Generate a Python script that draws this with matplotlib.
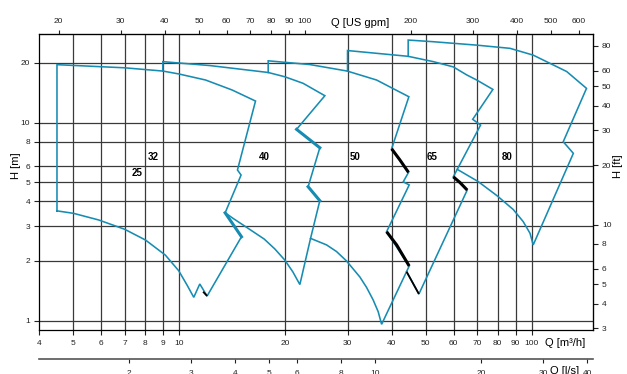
import matplotlib
matplotlib.use('Agg')
import matplotlib.pyplot as plt
from matplotlib.ticker import NullLocator

plt.rcParams['font.family'] = ['Liberation Sans', 'DejaVu Sans']

# ---------------- data (Q in m3/h, H in m) ----------------
families = ['25', '32', '40', '50', '65', '80']
label_q = [7.56, 8.4, 17.4, 31.5, 52.3, 84.9]
label_h = [5.54, 6.67, 6.67, 6.67, 6.67, 6.67]

env_25_32_q = [4.49, 4.49, 6.99, 8.97, 9.95, 11.86, 14.11, 16.44, 14.61, 14.96, 13.48, 15.0,
               11.98, 11.42, 10.98, 10.51, 9.95, 9.12, 8.01, 6.99, 5.90, 5.0, 4.49]
env_25_32_h = [3.58, 19.6, 18.9, 18.2, 17.6, 16.4, 14.6, 12.84, 5.76, 5.43, 3.50, 2.65,
               1.33, 1.53, 1.31, 1.51, 1.785, 2.14, 2.55, 2.89, 3.22, 3.48, 3.58]

env_40_q = [8.97, 8.97, 12.2, 17.86, 19.91, 22.44, 25.87, 21.5, 25.03, 23.19, 25.03, 23.56,
            21.97, 20.99, 19.91, 18.65, 17.4, 15.63, 14.2, 13.48]
env_40_h = [18.2, 20.3, 19.4, 17.9, 17.03, 15.78, 13.66, 9.24, 7.46, 4.74, 4.03, 2.60,
            1.52, 1.76, 2.02, 2.30, 2.58, 2.93, 3.28, 3.50]

env_50_q = [17.86, 17.86, 23.45, 29.93, 36.27, 40.62, 44.8, 40.02, 44.7, 43.18, 44.9, 38.73,
            44.9, 37.49, 36.66, 35.48, 33.98, 32.52, 29.8, 27.93, 26.16, 23.56]
env_50_h = [17.9, 20.5, 19.63, 18.2, 16.4, 14.77, 13.5, 7.37, 5.6, 5.02, 4.84, 2.81,
            1.885, 0.957, 1.108, 1.27, 1.47, 1.66, 2.0, 2.23, 2.41, 2.60]

env_65_q = [30.0, 30.0, 44.6, 52.6, 59.9, 65.4, 69.8, 77.6, 68.0, 71.6, 59.9, 65.6, 47.84, 44.15]
env_65_h = [18.2, 23.1, 21.6, 20.3, 19.1, 17.4, 16.4, 14.7, 10.38, 9.71, 5.32, 4.56, 1.361, 1.764]

env_80_q = [44.6, 44.6, 52.5, 69.8, 86.8, 101, 125.7, 143.1, 122.9, 131.3, 101, 98.9, 94.6,
            88.6, 79.6, 70.4, 61.5]
env_80_h = [21.6, 26.1, 25.6, 24.6, 23.7, 21.9, 18.1, 14.88, 8.0, 6.99, 2.41, 2.76, 3.16,
            3.64, 4.28, 5.04, 5.80]

# black overlay segments
blk_q = [[40.02, 42.26, 44.7], [38.73, 41.36, 44.9], [44.15, 47.84], [59.9, 62.56, 65.6], [11.67, 11.98]]
blk_h = [[7.37, 6.47, 5.6], [2.81, 2.41, 1.885], [1.764, 1.361], [5.32, 4.98, 4.56], [1.398, 1.33]]
blk_w = [2.2, 2.2, 1.3, 2.2, 1.3]

# doubled (thick) teal segments
thk_q = [[13.48, 15.0], [21.5, 25.03], [23.19, 25.03]]
thk_h = [[3.50, 2.65], [9.24, 7.46], [4.74, 4.03]]

grid_q = [5, 6, 7, 8, 9, 10, 20, 30, 40, 50, 60, 70, 80, 90, 100]
grid_h = [1, 2, 3, 4, 5, 6, 8, 10, 20]

q_ticks = [4, 5, 6, 7, 8, 9, 10, 20, 30, 40, 50, 60, 70, 80, 90, 100]
h_ticks = [1, 2, 3, 4, 5, 6, 8, 10, 20]
gpm_ticks = [20, 30, 40, 50, 60, 70, 80, 90, 100, 200, 300, 400, 500, 600]
ft_ticks = [3, 4, 5, 6, 8, 10, 20, 30, 40, 50, 60, 80]
ls_ticks = [2, 3, 4, 5, 6, 8, 10, 20, 30, 40]

GPM_PER_M3H = 4.402868
FT_PER_M = 3.28084
M3H_PER_LS = 3.6

# ---------------- figure ----------------
W, Hpx = 627, 374
fig = plt.figure(figsize=(W / 100, Hpx / 100), dpi=100)
ax = fig.add_axes([39.3 / W, 44.3 / Hpx, (593 - 39.3) / W, (329.7 - 33.7) / Hpx])
ax.set_xscale('log')
ax.set_yscale('log')
ax.set_xlim(4, 149.3)
ax.set_ylim(0.899, 28.1)

gcol = '#3a3a3a'
for q in grid_q:
    ax.axvline(q, color=gcol, lw=0.9, zorder=1)
for h in grid_h:
    ax.axhline(h, color=gcol, lw=0.9, zorder=1)

teal = '#178cb2'
for qs, hs in [(env_25_32_q, env_25_32_h), (env_40_q, env_40_h), (env_50_q, env_50_h),
               (env_65_q, env_65_h), (env_80_q, env_80_h)]:
    ax.plot(qs, hs, color=teal, lw=1.15, zorder=3, solid_joinstyle='miter')
for qs, hs in zip(thk_q, thk_h):
    ax.plot(qs, hs, color=teal, lw=2.2, zorder=3)
for qs, hs, w in zip(blk_q, blk_h, blk_w):
    ax.plot(qs, hs, color='black', lw=w, zorder=4, solid_capstyle='butt')

for name, q, h in zip(families, label_q, label_h):
    ax.text(q, h, name, fontsize=7, fontweight='bold', ha='center', va='center', zorder=5)

for s in ax.spines.values():
    s.set_linewidth(0.9)

ax.set_xticks(q_ticks, [str(t) for t in q_ticks])
ax.set_yticks(h_ticks, [str(t) for t in h_ticks])
ax.xaxis.set_minor_locator(NullLocator())
ax.yaxis.set_minor_locator(NullLocator())
ax.tick_params(direction='out', length=3.5, width=0.8, labelsize=6, pad=4, colors='#222222')
ax.tick_params(axis='y', pad=3)

top = ax.secondary_xaxis('top', functions=(lambda q: q * GPM_PER_M3H, lambda g: g / GPM_PER_M3H))
top.set_xticks(gpm_ticks, [str(t) for t in gpm_ticks])
top.xaxis.set_minor_locator(NullLocator())
top.tick_params(direction='out', length=3, width=0.8, labelsize=6, pad=3, colors='#222222')

right = ax.secondary_yaxis('right', functions=(lambda h: h * FT_PER_M, lambda f: f / FT_PER_M))
right.set_yticks(ft_ticks, [str(t) for t in ft_ticks])
right.yaxis.set_minor_locator(NullLocator())
right.tick_params(direction='out', length=3.5, width=0.8, labelsize=6, pad=3, colors='#222222')

ls = ax.secondary_xaxis(-0.099, functions=(lambda q: q / M3H_PER_LS, lambda l: l * M3H_PER_LS))
ls.set_xticks(ls_ticks, [str(t) for t in ls_ticks])
ls.xaxis.set_minor_locator(NullLocator())
ls.tick_params(direction='out', length=3, width=0.8, labelsize=6, pad=5, colors='#222222')
for s in ls.spines.values():
    s.set_linewidth(1.2)
    s.set_color('#555555')

def fx(x):
    return x / W

def fy(y):
    return 1 - y / Hpx

fig.text(fx(16), fy(166), 'H [m]', rotation=90, ha='center', va='center', fontsize=8)
fig.text(fx(618), fy(166), 'H [ft]', rotation=90, ha='center', va='center', fontsize=8)
fig.text(fx(360.5), fy(22.5), 'Q [US gpm]', ha='center', va='center', fontsize=8)
fig.text(fx(565), fy(343), 'Q [m³/h]', ha='center', va='center', fontsize=8)
fig.text(fx(565), fy(365.5), 'Q [l/s]', ha='center', va='top', fontsize=8)

fig.savefig('out.png', dpi=100)
